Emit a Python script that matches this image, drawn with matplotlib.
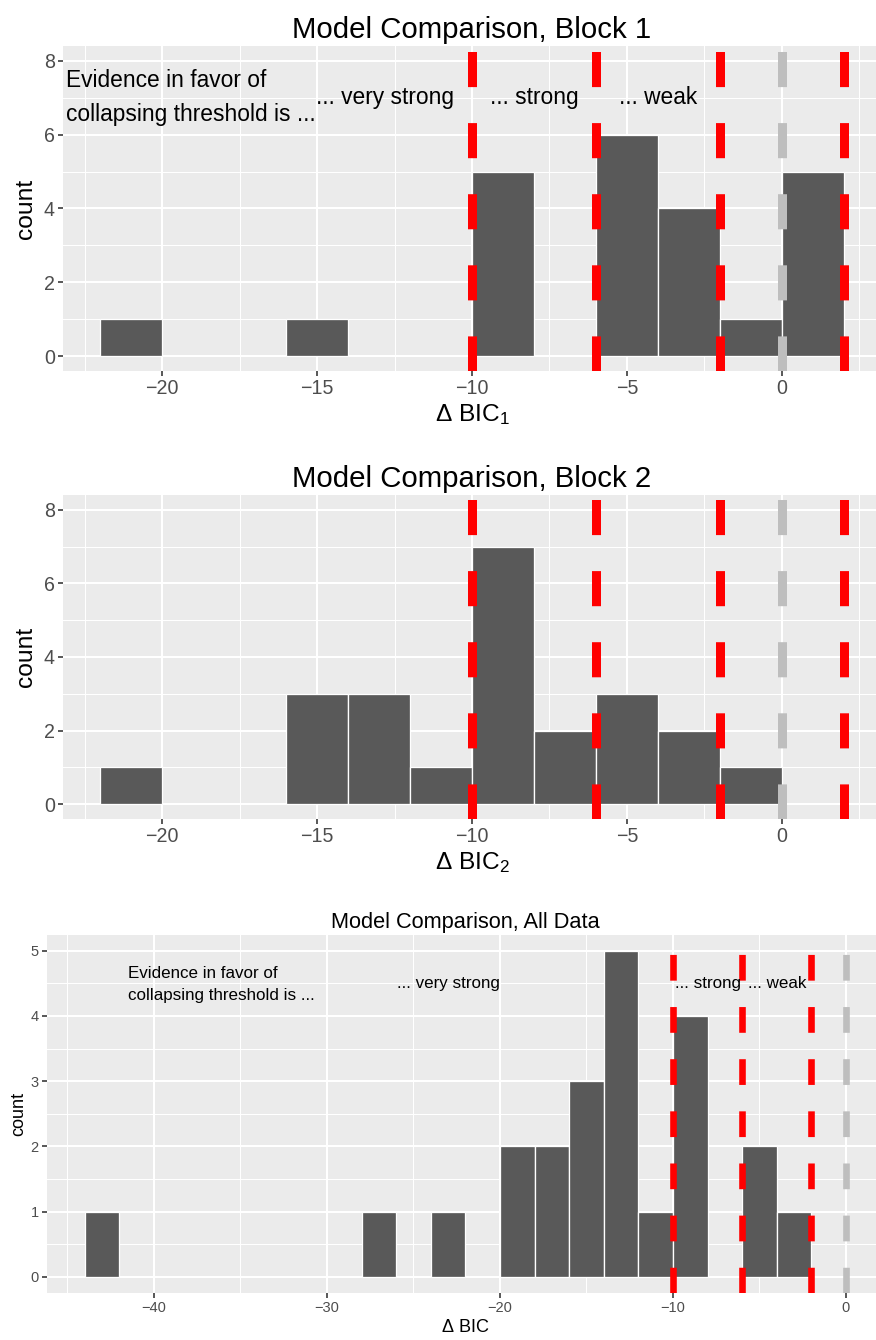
import numpy as np
import matplotlib
matplotlib.use('Agg')
import matplotlib.pyplot as plt

plt.rcParams['font.family'] = ['Liberation Sans', 'DejaVu Sans']
plt.rcParams['mathtext.fontset'] = 'custom'
plt.rcParams['mathtext.rm'] = 'Liberation Sans'
plt.rcParams['mathtext.it'] = 'Liberation Sans:italic'

# %%
# histogram counts (bins are 2 units wide, left edges given)
binwidth = 2
bins1 = [-22, -16, -10, -6, -4, -2, 0]
counts1 = [1, 1, 5, 6, 4, 1, 5]
bins2 = [-22, -16, -14, -12, -10, -8, -6, -4, -2]
counts2 = [1, 3, 3, 1, 7, 2, 3, 2, 1]
bins3 = [-44, -28, -24, -20, -18, -16, -14, -12, -10, -6, -4]
counts3 = [1, 1, 1, 2, 2, 3, 5, 1, 4, 2, 1]

# evidence thresholds
red_lines_12 = [-10, -6, -2, 2]
red_lines_3 = [-10, -6, -2]
grey_line = 0

titles = ['Model Comparison, Block 1', 'Model Comparison, Block 2', 'Model Comparison, All Data']
xlabels = [r'$\Delta$ BIC$_1$', r'$\Delta$ BIC$_2$', r'$\Delta$ BIC']

evidence_text = 'Evidence in favor of\ncollapsing threshold is ...'
labels_1 = ['... very strong', '... strong', '... weak']
label_x_1 = [-12.8, -8, -4]
label_x_3 = [-23, -8, -4]

# %%
W, H = 876, 1340
fig = plt.figure(figsize=(W / 100, H / 100), dpi=100)


def rect(l, t, r, b):
    return [l / W, 1 - b / H, (r - l) / W, (b - t) / H]


def px(v):
    return v * 0.72   # pixels -> points at dpi 100


def draw_panel(ax, lefts, counts, xlim, ylim, xmaj, xmin, ymaj, ymin, reds,
               vlw, sizes, title, xlabel, tpad, xpad, ypad):
    fs_title, fs_axis, fs_tick = sizes
    ax.set_facecolor('#EBEBEB')
    for s in ax.spines.values():
        s.set_visible(False)
    ax.set_xlim(xlim)
    ax.set_ylim(ylim)
    ax.set_xticks(xmaj)
    ax.set_xticks(xmin, minor=True)
    ax.set_yticks(ymaj)
    ax.set_yticks(ymin, minor=True)
    ax.grid(which='major', color='white', linewidth=px(2.0))
    ax.grid(which='minor', color='white', linewidth=px(1.0))
    ax.set_axisbelow(True)
    ax.tick_params(which='major', color='#333333', labelcolor='#4D4D4D',
                   length=px(5), width=px(1.6), labelsize=px(fs_tick), pad=px(3))
    ax.tick_params(which='minor', length=0)
    ax.xaxis.set_major_formatter(matplotlib.ticker.FuncFormatter(
        lambda v, p: ('\u2212' if v < 0 else '') + '%d' % abs(v)))

    ax.bar(lefts, counts, width=binwidth, align='edge', color='#595959',
           edgecolor='white', linewidth=px(1.3), zorder=2)

    dash = (0, (3.9, 4.0))
    for x in reds:
        ax.axvline(x, color='#FF0000', linewidth=px(vlw), linestyle=dash,
                   dash_capstyle='butt', zorder=3)
    ax.axvline(grey_line, color='#BEBEBE', linewidth=px(vlw), linestyle=dash,
               dash_capstyle='butt', zorder=3)

    ax.set_title(title, fontsize=px(fs_title), pad=tpad)
    ax.set_xlabel(xlabel, fontsize=px(fs_axis), labelpad=xpad)
    ax.set_ylabel('count', fontsize=px(fs_axis), labelpad=ypad)


# panel 1 and 2 share the same axes set-up
xl12 = (-23.2, 3.2)
yl12 = (-0.4, 8.4)
sizes12 = (29.4, 24.5, 19.6)

ax1 = fig.add_axes(rect(63, 46, 881, 371))
draw_panel(ax1, bins1, counts1, xl12, yl12, [-20, -15, -10, -5, 0],
           [-22.5, -17.5, -12.5, -7.5, -2.5, 2.5], [0, 2, 4, 6, 8], [1, 3, 5, 7],
           red_lines_12, 9, sizes12, titles[0], xlabels[0], 6, 3, 5)
ax1.text(-23.1, 7.0, evidence_text, fontsize=px(22.7), ha='left', va='center',
         linespacing=1.6)
for x, s in zip(label_x_1, labels_1):
    ax1.text(x, 7.0, s, fontsize=px(22.7), ha='center', va='center')

ax2 = fig.add_axes(rect(63, 495, 881, 819))
draw_panel(ax2, bins2, counts2, xl12, yl12, [-20, -15, -10, -5, 0],
           [-22.5, -17.5, -12.5, -7.5, -2.5, 2.5], [0, 2, 4, 6, 8], [1, 3, 5, 7],
           red_lines_12, 9, sizes12, titles[1], xlabels[1], 6, 3, 5)

ax3 = fig.add_axes(rect(46.7, 934.5, 884, 1293))
draw_panel(ax3, bins3, counts3, (-46.2, 2.2), (-0.25, 5.25), [-40, -30, -20, -10, 0],
           [-45, -35, -25, -15, -5], [0, 1, 2, 3, 4, 5], [0.5, 1.5, 2.5, 3.5, 4.5],
           red_lines_3, 6.6, (21.8, 18.2, 14.6), titles[2], xlabels[2], 5, 3, 2)
ax3.text(-41.5, 4.48, evidence_text, fontsize=px(17), ha='left', va='center',
         linespacing=1.6)
for x, s in zip(label_x_3, labels_1):
    ax3.text(x, 4.5, s, fontsize=px(17), ha='center', va='center')

fig.savefig('out.png', dpi=100)
